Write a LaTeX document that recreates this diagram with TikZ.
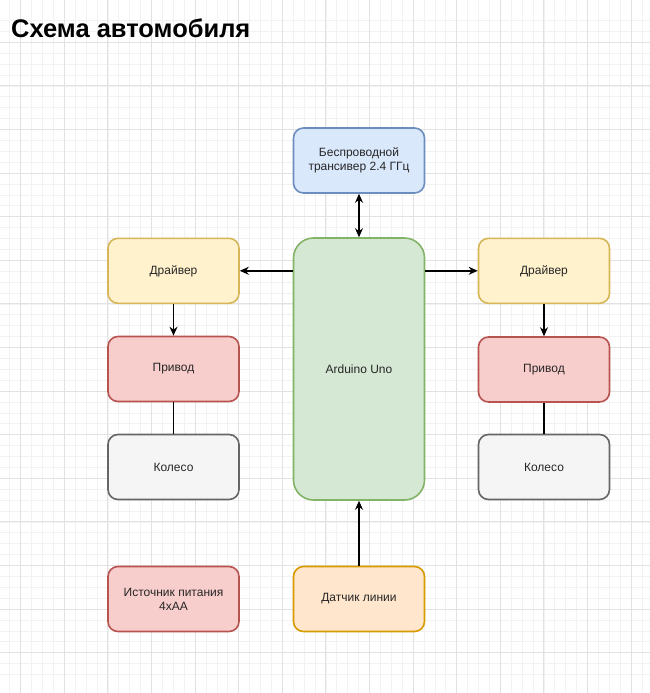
\documentclass[tikz,border=0pt]{standalone}
\usepackage{fontspec}
\setmainfont{Liberation Sans}
\usetikzlibrary{arrows.meta}
\definecolor{gridmajor}{HTML}{E2E2E2}
\definecolor{gridminor}{HTML}{F2F2F2}
\definecolor{blueF}{HTML}{DAE8FC}\definecolor{blueD}{HTML}{6C8EBF}
\definecolor{greenF}{HTML}{D5E8D4}\definecolor{greenD}{HTML}{82B366}
\definecolor{yellowF}{HTML}{FFF2CC}\definecolor{yellowD}{HTML}{D6B656}
\definecolor{redF}{HTML}{F8CECC}\definecolor{redD}{HTML}{B85450}
\definecolor{grayF}{HTML}{F5F5F5}\definecolor{grayD}{HTML}{666666}
\definecolor{orangeF}{HTML}{FFE6CC}\definecolor{orangeD}{HTML}{D79B00}
\begin{document}
\begin{tikzpicture}[x=1pt,y=-1pt,
  block/.style={draw, line width=1.6pt, rounded corners=10pt, inner sep=2pt,
    minimum width=131pt, minimum height=65pt, align=center,
    font=\fontsize{12}{14}\selectfont, text=black!85},
  link/.style={line width=1.4pt, -{Stealth[length=9pt,width=8pt]}}]
\useasboundingbox (0,0) rectangle (650,693);
\fill[white] (0,0) rectangle (650,693);
% grid
\foreach \i in {-2,...,58} {
  \pgfmathsetmacro{\gx}{20.7+\i*10.9}
  \draw[gridminor, line width=0.8pt] (\gx,0) -- (\gx,693);
  \draw[gridminor, line width=0.8pt] (0,\gx+21.6) -- (650,\gx+21.6);
}
\foreach \i in {-1,...,15} {
  \pgfmathsetmacro{\gx}{20.7+\i*43.6}
  \draw[gridmajor, line width=1pt] (\gx,0) -- (\gx,693);
  \draw[gridmajor, line width=1pt] (0,\gx+21.6) -- (650,\gx+21.6);
}
% title
\node[anchor=west, font=\bfseries\fontsize{25.5}{30}\selectfont, inner sep=0pt] (title) at (11,28) {Схема автомобиля};
% blocks
\node[block, fill=blueF, draw=blueD] (radio) at (359,160.5) {Беспроводной\\трансивер 2.4 ГГц};
\node[block, fill=greenF, draw=greenD, minimum height=262pt, rounded corners=20pt] (uno) at (359,369) {Arduino Uno};
\node[block, fill=yellowF, draw=yellowD] (drvL) at (173.5,270.8) {Драйвер};
\node[block, fill=redF, draw=redD] (motL) at (173.5,369) {Привод};
\node[block, fill=grayF, draw=grayD] (whlL) at (173.5,467) {Колесо};
\node[block, fill=yellowF, draw=yellowD] (drvR) at (544,270.8) {Драйвер};
\node[block, fill=redF, draw=redD] (motR) at (544,369.5) {Привод};
\node[block, fill=grayF, draw=grayD] (whlR) at (544,467) {Колесо};
\node[block, fill=redF, draw=redD] (power) at (173.5,599) {Источник питания\\4xAA};
\node[block, fill=orangeF, draw=orangeD] (sensor) at (359,599) {Датчик линии};
% links
\draw[link, {Stealth[length=9pt,width=8pt]}-{Stealth[length=9pt,width=8pt]}] (radio) -- (uno);
\draw[link] (uno.west |- drvL) -- (drvL);
\draw[link] (uno.east |- drvR) -- (drvR);
\draw[link] (drvL) -- (motL);
\draw[link] (drvR) -- (motR);
\draw[line width=1.4pt] (motL) -- (whlL);
\draw[line width=1.4pt] (motR) -- (whlR);
\draw[link] (sensor) -- (uno);
\end{tikzpicture}
\end{document}
